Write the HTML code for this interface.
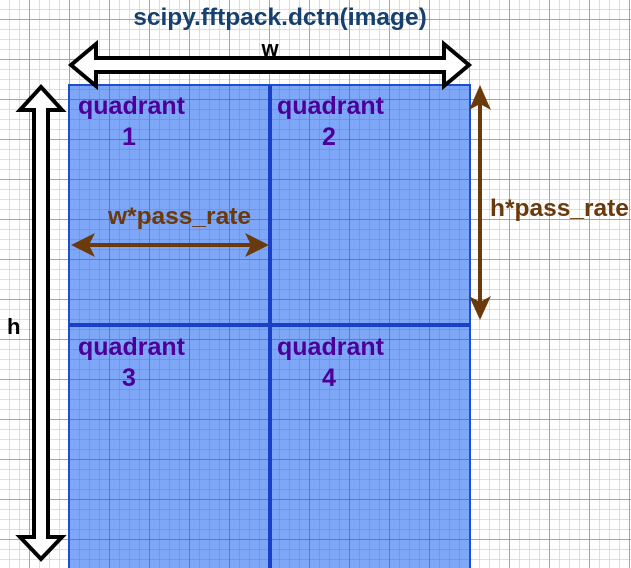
<!DOCTYPE html>
<html><head><meta charset="utf-8"><style>
html,body{margin:0;padding:0;background:#fff;width:631px;height:568px;overflow:hidden}
svg{display:block}
text{font-family:"Liberation Sans",Arial,sans-serif;font-weight:bold}
</style></head><body>
<svg width="631" height="568" viewBox="0 0 631 568" xmlns="http://www.w3.org/2000/svg">
<defs>
<pattern id="minor" width="10" height="10" patternUnits="userSpaceOnUse" x="0" y="0">
<path d="M10 0V10M0 10H10" fill="none" stroke="#d4d4d4" stroke-width="1.5"/>
</pattern>
<pattern id="major" width="40" height="40" patternUnits="userSpaceOnUse" x="-10.5" y="-20.5">
<path d="M40 0V40M0 40H40" fill="none" stroke="#7a7a7a" stroke-width="1"/>
</pattern>
</defs>
<rect width="631" height="568" fill="url(#minor)"/>
<rect width="631" height="568" fill="url(#major)"/>
<rect x="69" y="85" width="401" height="490" fill="#0050ef" fill-opacity="0.5" stroke="#1d4ed0" stroke-width="2"/>
<line x1="270" y1="85" x2="270" y2="568" stroke="#1a40c8" stroke-width="4"/>
<line x1="69" y1="325" x2="470" y2="325" stroke="#1a40c8" stroke-width="4"/>
<path d="M71 65 L96 44 L96 58 L444 58 L444 44 L469 65 L444 86 L444 72 L96 72 L96 86 Z" fill="#fff" stroke="#000" stroke-width="4" stroke-linejoin="miter"/>
<path d="M41 87 L62 110 L48 110 L48 537 L62 537 L41 559 L20 537 L34 537 L34 110 L20 110 Z" fill="#fff" stroke="#000" stroke-width="4"/>
<line x1="88" y1="245" x2="252" y2="245" stroke="#6b3a0c" stroke-width="4"/>
<path d="M71 245 L95 233 L89 245 L95 257 Z M269 245 L245 233 L251 245 L245 257 Z" fill="#6b3a0c"/>
<line x1="480" y1="102" x2="480" y2="304" stroke="#6b3a0c" stroke-width="4"/>
<path d="M480 85 L469 110 L480 104 L491 110 Z M480 320 L469 296 L480 302 L491 296 Z" fill="#6b3a0c"/>
<text x="280" y="25" font-size="24.5" fill="#16406e" text-anchor="middle">scipy.fftpack.dctn(image)</text>
<text x="270" y="56" font-size="22" fill="#000" text-anchor="middle">w</text>
<text x="7" y="334" font-size="22" fill="#000">h</text>
<g font-size="25" fill="#4c0099">
<text x="78" y="114">quadrant</text><text x="129" y="145" text-anchor="middle">1</text>
<text x="277" y="114">quadrant</text><text x="329" y="145" text-anchor="middle">2</text>
<text x="78" y="355">quadrant</text><text x="129" y="386" text-anchor="middle">3</text>
<text x="277" y="355">quadrant</text><text x="329" y="386" text-anchor="middle">4</text>
</g>
<text x="108" y="224" font-size="24.5" fill="#6b3a0c">w*pass_rate</text>
<text x="490" y="216" font-size="24.5" fill="#6b3a0c">h*pass_rate</text>
</svg>
</body></html>
